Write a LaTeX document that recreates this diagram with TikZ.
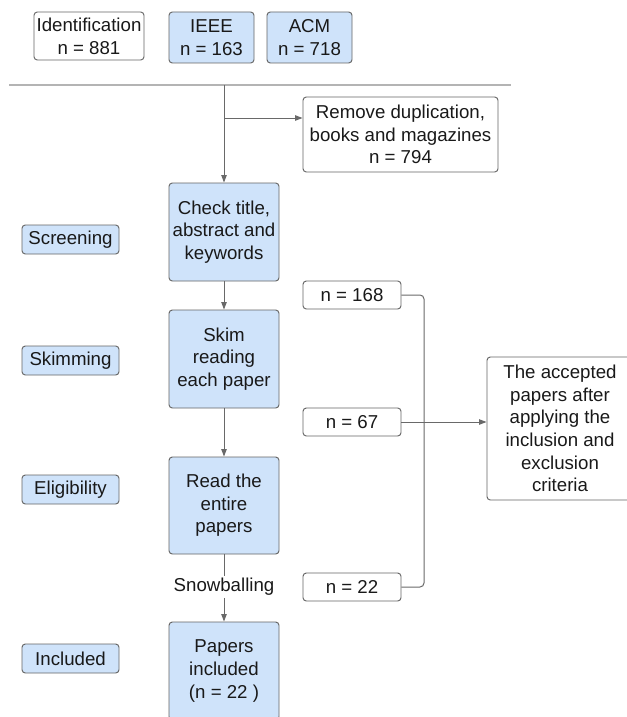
\documentclass[tikz,border=0pt]{standalone}
\usepackage{fontspec}
\setmainfont{Liberation Sans}
\usetikzlibrary{arrows.meta}
\definecolor{boxblue}{RGB}{207,227,250}
\definecolor{edgegray}{RGB}{100,100,100}
\definecolor{linegray}{RGB}{105,105,105}
\definecolor{rulegray}{RGB}{180,180,180}
\definecolor{inkc}{RGB}{25,25,25}
\begin{document}
\begin{tikzpicture}[x=0.75pt,y=-0.75pt,
  font=\fontsize{14}{17}\selectfont,
  sz/.style 2 args={minimum width=#1*0.75pt, minimum height=#2*0.75pt},
  box/.style={draw=edgegray, line width=0.7pt, rounded corners=2.5pt, align=center, inner sep=0pt, text=inkc},
  bluebox/.style={box, fill=boxblue},
  conn/.style={draw=linegray, line width=0.75pt},
  arr/.style={conn, -{Triangle[length=5.5pt,width=4pt]}}]
\useasboundingbox (0,0) rectangle (627,717);
\clip (0,0) rectangle (627,717);

% top row
\node[box, sz={110}{48}] (ident) at (89,36) {Identification\\n = 881};
\node[bluebox, sz={85}{51}] (ieee) at (211.5,37.5) {IEEE\\n = 163};
\node[bluebox, sz={85}{51}] (acm) at (309.5,37.5) {ACM\\n = 718};

% main column
\node[box, sz={195}{75}] (remove) at (400.5,134.5) {Remove duplication,\\books and magazines\\n = 794};
\node[bluebox, sz={110}{98}] (check) at (224,232) {Check title,\\abstract and\\keywords};
\node[bluebox, sz={110}{98}] (skim) at (224,359) {Skim\\reading\\each paper};
\node[bluebox, sz={110}{97}] (read) at (224,505.5) {Read the\\entire\\papers};
\node[inner sep=1.5pt, text=inkc] (snow) at (224,587) {Snowballing};
\node[bluebox, sz={110}{98}] (papers) at (224,671) {Papers\\included\\(n = 22 )};

% stage labels
\node[bluebox, sz={97}{29}] (screen) at (70.5,239.5) {Screening};
\node[bluebox, sz={97}{29}] (skimming) at (70.5,360.5) {Skimming};
\node[bluebox, sz={97}{29}] (elig) at (70.5,489.5) {Eligibility};
\node[bluebox, sz={97}{29}] (incl) at (70.5,658.5) {Included};

% counts
\node[box, sz={98}{28}] (n168) at (352,295) {n = 168};
\node[box, sz={98}{28}] (n67) at (352,422) {n = 67};
\node[box, sz={98}{28}] (n22) at (352,587) {n = 22};
\node[box, sz={146}{143}] (accept) at (560,428.5) {The accepted\\papers after\\applying the\\inclusion and\\exclusion\\criteria};

% connectors
\coordinate (ruleL) at (9,85);
\coordinate (ruleR) at (511,85);
\draw[rulegray, line width=1.5pt] (ruleL) -- (ruleR);
\coordinate (top) at (224,85);
\coordinate (br) at (224,118);
\coordinate (bx) at (424,0);
\draw[arr] (top) -- (check);
\draw[arr] (br) -- (br -| remove.west);
\draw[arr] (check) -- (skim);
\draw[arr] (skim) -- (read);
\draw[conn] (read) -- (snow);
\draw[arr] (snow) -- (papers);
\draw[conn, rounded corners=3pt] (n168.east) -- (n168.east -| bx) -- (n22.east -| bx) -- (n22.east);
\draw[arr] (n67.east) -- (accept.west |- n67.east);
\end{tikzpicture}
\end{document}
